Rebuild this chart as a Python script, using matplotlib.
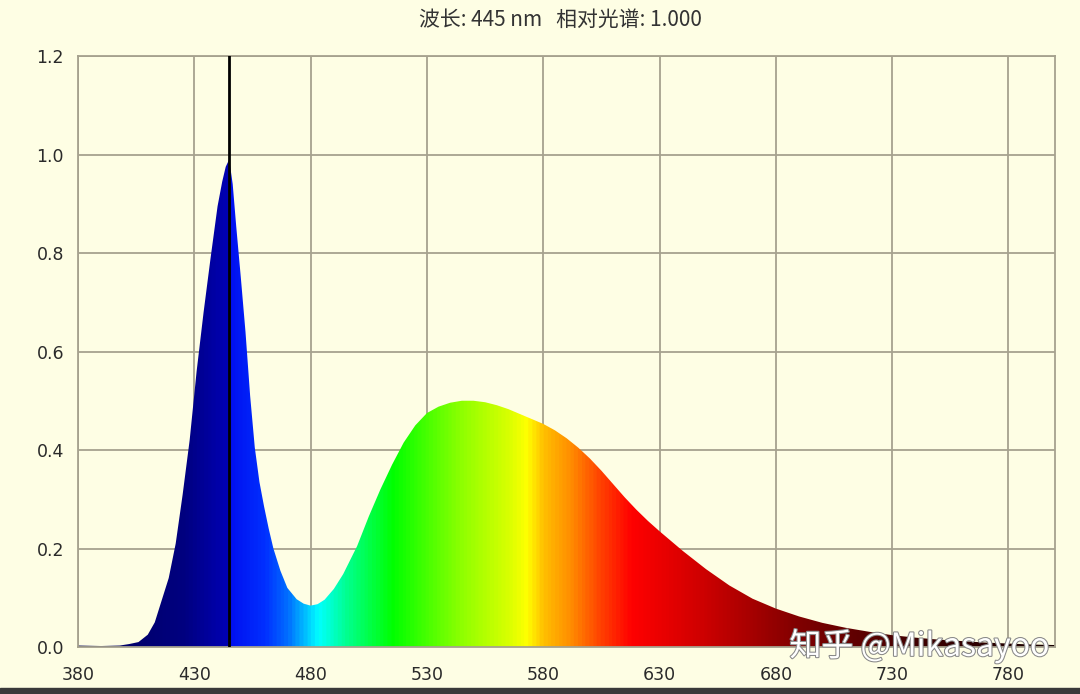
import matplotlib.pyplot as plt
import matplotlib.patheffects as pe
from matplotlib.colors import LinearSegmentedColormap
from matplotlib.patches import Rectangle
import numpy as np

plt.rcParams['font.family'] = ['DejaVu Sans']

# spectrum
wavelength = [380, 390, 398, 402, 406, 410, 413, 416, 419, 422, 425, 428, 431, 434,
              437, 440, 442, 443.5, 445, 446.5, 448, 450, 452, 454, 456, 458, 460,
              462, 464, 467, 470, 474, 477, 480, 483, 486, 490, 494, 500, 505, 510,
              515, 520, 525, 530, 535, 540, 545, 550, 555, 560, 565, 570, 575, 580,
              585, 590, 595, 600, 605, 610, 615, 620, 625, 630, 640, 650, 660, 670,
              680, 690, 700, 710, 720, 730, 740, 750, 760, 770, 780, 790, 800]
relative = [0.003, 0.002, 0.003, 0.006, 0.01, 0.025, 0.05, 0.095, 0.14, 0.21, 0.31,
            0.42, 0.56, 0.68, 0.79, 0.895, 0.945, 0.975, 0.99, 0.94, 0.855, 0.75, 0.64,
            0.51, 0.405, 0.335, 0.285, 0.24, 0.2, 0.155, 0.12, 0.097, 0.088, 0.084,
            0.087, 0.096, 0.118, 0.148, 0.205, 0.265, 0.32, 0.37, 0.415, 0.45,
            0.475, 0.488, 0.496, 0.5, 0.5, 0.497, 0.491, 0.483, 0.473, 0.463, 0.453,
            0.44, 0.424, 0.405, 0.383, 0.358, 0.331, 0.304, 0.279, 0.256, 0.235,
            0.195, 0.158, 0.125, 0.098, 0.078, 0.062, 0.049, 0.039, 0.031, 0.024,
            0.019, 0.015, 0.012, 0.009, 0.007, 0.005, 0.004]

marker_wl = 445
marker_val = 1.000
xticks = [380, 430, 480, 530, 580, 630, 680, 730, 780]
yticks = [0.0, 0.2, 0.4, 0.6, 0.8, 1.0, 1.2]

# wavelength -> colour stops for the rainbow fill
stops = [(380, '#000058'), (425, '#000080'), (444.9, '#0000b8'), (445.1, '#0010f0'),
         (460, '#0030ff'), (470, '#0070ff'), (483, '#00ffff'), (495, '#00ff90'),
         (515, '#00ff00'), (545, '#90ff00'), (565, '#d8ff00'), (573, '#ffff00'),
         (580, '#ffc000'), (592, '#ff8c00'), (605, '#ff4000'), (618, '#ff0000'),
         (650, '#cc0000'), (690, '#800000'), (740, '#400000'), (800, '#180000')]
cmap = LinearSegmentedColormap.from_list(
    'spec', [((w - 380) / 420, c) for w, c in stops])

bg = '#fefee4'
gridc = '#a6a28e'

fig = plt.figure(figsize=(10.8, 6.94), dpi=100, facecolor=bg)
ax = fig.add_axes([78 / 1080, 47 / 694, 977 / 1080, 591 / 694])
ax.set_facecolor(bg)

ax.set_xlim(380, 800)
ax.set_ylim(0, 1.2)
ax.set_xticks(xticks)
ax.set_yticks(yticks)
ax.set_yticklabels([f'{v:.1f}' for v in yticks])
ax.tick_params(length=0, labelsize=12.5, colors='#2a2a2a', pad=10)
ax.tick_params(axis='x', pad=14)
ax.grid(True, color=gridc, linewidth=1.3)
ax.set_axisbelow(True)
for s in ax.spines.values():
    s.set_color(gridc)
    s.set_linewidth(1.3)

poly = ax.fill_between(wavelength, relative, 0, color='none', linewidth=0)
grad = np.linspace(0, 1, 1200).reshape(1, -1)
im = ax.imshow(grad, cmap=cmap, aspect='auto', extent=[380, 800, 0, 1.2],
               origin='lower', zorder=2, interpolation='bilinear')
path = poly.get_paths()[0]
im.set_clip_path(path, transform=ax.transData)

ax.axvline(marker_wl, color='black', linewidth=2, zorder=3)

fig.text(0.519, 0.971, f'波长: {marker_wl} nm   相对光谱: {marker_val:.3f}',
         ha='center', va='center', fontsize=15, color='#333333',
         family=['Noto Sans CJK SC', 'DejaVu Sans'])

fig.text(0.731, 0.069, '知乎 @Mikasayoo', ha='left', va='center', fontsize=23,
         color='white', family=['Noto Sans CJK SC', 'DejaVu Sans'],
         path_effects=[pe.withStroke(linewidth=1.5, foreground='#888888')])

fig.patches.append(Rectangle((0, 0), 1, 6 / 694, transform=fig.transFigure,
                             color='#3a3a3a', zorder=5))

plt.savefig('out.png', dpi=100, facecolor=bg)
